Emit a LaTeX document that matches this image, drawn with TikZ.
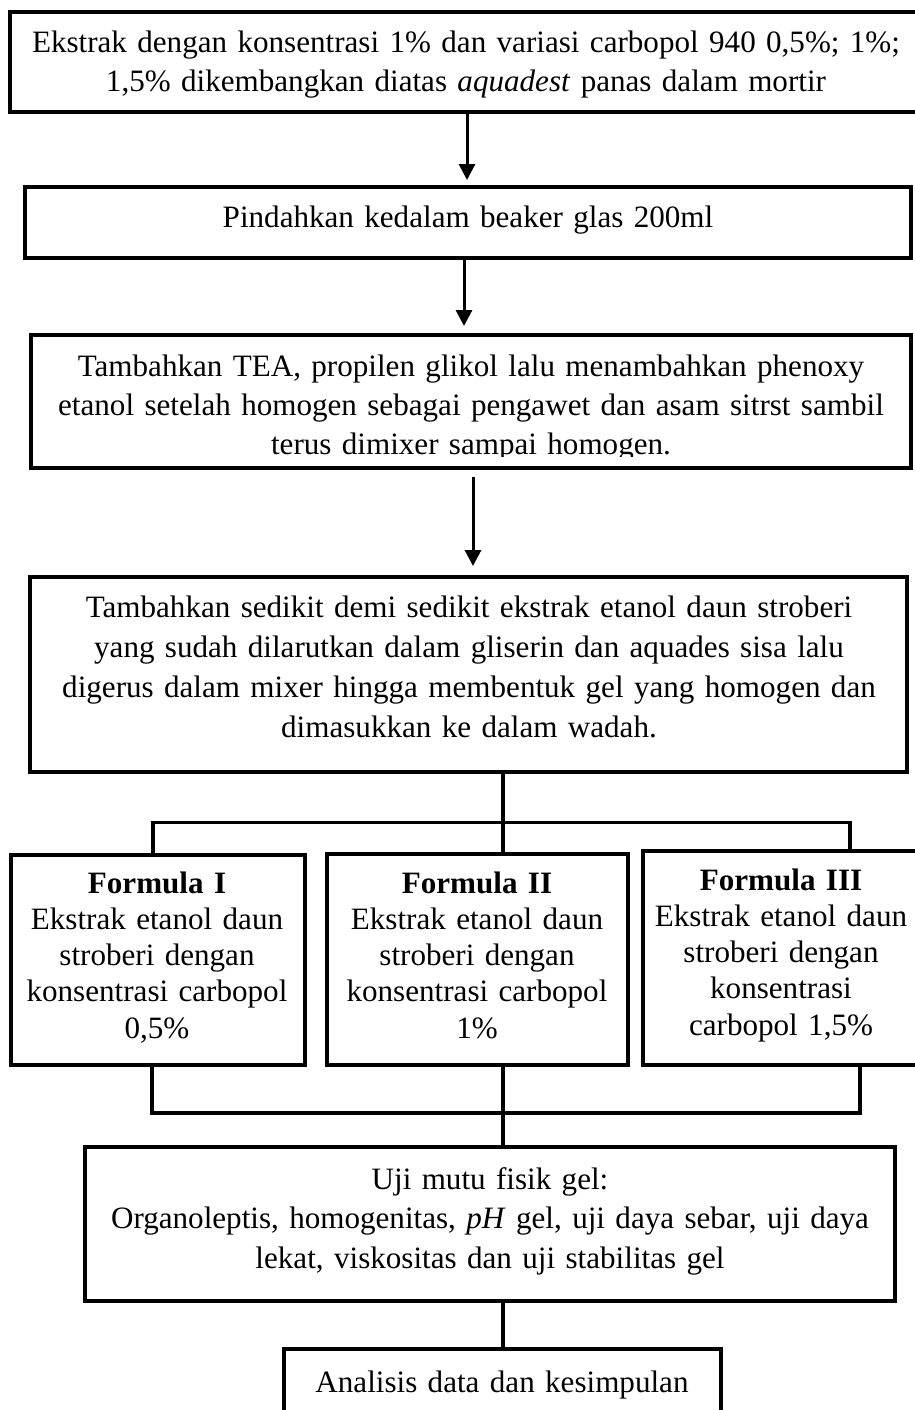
\documentclass[tikz,border=0pt]{standalone}
\usepackage{fontspec}
\setmainfont{Liberation Serif}
\usetikzlibrary{arrows.meta}
\begin{document}
\begin{tikzpicture}[x=1pt,y=-1pt,
  box/.style={draw, line width=4pt, rectangle, inner sep=0pt, anchor=center},
  txt/.style={inner sep=0pt, anchor=base, align=center, font=\fontsize{31.1}{39}\selectfont},
  conn/.style={line width=3.8pt, line join=miter},
  arr/.style={line width=3pt, -{Triangle[length=16pt,width=16pt]}}]
\useasboundingbox (0,0) rectangle (915,1410);
% boxes
\node[box, minimum width=908pt, minimum height=100pt] (b1) at (464,62) {};
\node[box, minimum width=886pt, minimum height=71pt] (b2) at (468,222.5) {};
\node[box, minimum width=880pt, minimum height=133pt] (b3) at (471,401.5) {};
\node[box, minimum width=877pt, minimum height=195pt] (b4) at (468.5,674.5) {};
\node[box, minimum width=294pt, minimum height=210pt] (f1) at (158,960) {};
\node[box, minimum width=301pt, minimum height=211pt] (f2) at (477.5,959.5) {};
\node[box, minimum width=277pt, minimum height=214pt] (f3) at (781.5,958) {};
\node[box, minimum width=810pt, minimum height=154pt] (u) at (490,1224) {};
\node[box, minimum width=437pt, minimum height=81pt] (a) at (502.5,1389.5) {};
% texts
\node[txt, text width=900pt] (t1) at (466,53) {Ekstrak dengan konsentrasi 1\% dan variasi carbopol 940 0,5\%; 1\%;\\1,5\% dikembangkan diatas \textit{aquadest} panas dalam mortir};
\node[txt, text width=880pt] (t2) at (468,227) {Pindahkan kedalam beaker glas 200ml};
\begin{scope}
\clip (0,300) rectangle (915,456);
\node[txt, text width=880pt] (t3) at (471,376) {Tambahkan TEA, propilen glikol lalu menambahkan phenoxy\\etanol setelah homogen sebagai pengawet dan asam sitrst sambil\\terus dimixer sampai homogen.};
\end{scope}
\node[txt, text width=877pt, font=\fontsize{31.1}{40}\selectfont] (t4) at (469,617) {Tambahkan sedikit demi sedikit ekstrak etanol daun stroberi\\yang sudah dilarutkan dalam gliserin dan aquades sisa lalu\\digerus dalam mixer hingga membentuk gel yang homogen dan\\dimasukkan ke dalam wadah.};
\node[txt, text width=294pt, font=\fontsize{31.1}{36.3}\selectfont] (tf1) at (157,893) {\textbf{Formula I}\\Ekstrak etanol daun\\stroberi dengan\\konsentrasi carbopol\\0,5\%};
\node[txt, text width=301pt, font=\fontsize{31.1}{36.3}\selectfont] (tf2) at (477,893) {\textbf{Formula II}\\Ekstrak etanol daun\\stroberi dengan\\konsentrasi carbopol\\1\%};
\node[txt, text width=277pt, font=\fontsize{31.1}{36.3}\selectfont] (tf3) at (781,890) {\textbf{Formula III}\\Ekstrak etanol daun\\stroberi dengan\\konsentrasi\\carbopol 1,5\%};
\node[txt, text width=810pt, font=\fontsize{31.1}{39.5}\selectfont] (tu) at (490,1189) {Uji mutu fisik gel:\\Organoleptis, homogenitas, \textit{pH} gel, uji daya sebar, uji daya\\lekat, viskositas dan uji stabilitas gel};
\node[txt, text width=437pt] (ta) at (502,1392) {Analisis data dan kesimpulan};
% arrows
\draw[arr, shorten >=5pt] ([xshift=-1pt]b2.north |- b1.south) -- ([xshift=-1pt]b2.north);
\draw[arr, shorten >=7pt] ([xshift=-4pt]b2.south) -- ([xshift=-4pt]b2.south |- b3.north);
\draw[arr, shorten <=7pt, shorten >=9pt] ([xshift=2pt]b3.south) -- ([xshift=2pt]b3.south |- b4.north);
% branch junctions
\coordinate (j1) at (503,822.5);
\coordinate (j1L) at (153,822.5);
\coordinate (j1R) at (850,822.5);
\coordinate (j2) at (503,1113);
\coordinate (j2L) at (152,1113);
\coordinate (j2R) at (860,1113);
\draw[conn] (j1 |- b4.south) -- (j1 |- f2.north);
\draw[conn] (j1L |- f1.north) -- (j1L) -- (j1R) -- (j1R |- f3.north);
\draw[conn] (j2L |- f1.south) -- (j2L) -- (j2R) -- (j2R |- f3.south);
\draw[conn] (j2 |- f2.south) -- (j2 |- u.north);
\draw[conn] (j2 |- u.south) -- (j2 |- a.north);
\end{tikzpicture}
\end{document}
